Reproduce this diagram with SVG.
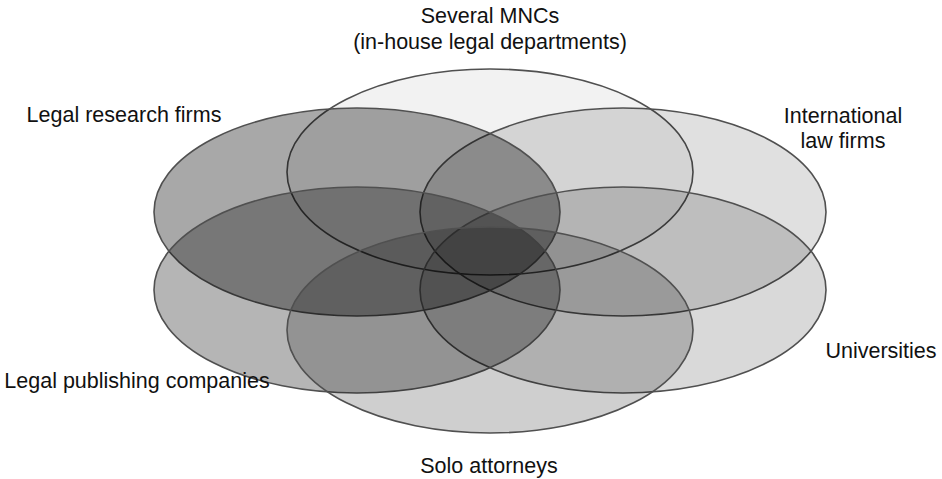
<svg xmlns="http://www.w3.org/2000/svg" width="942" height="479" viewBox="0 0 942 479">
<style>
.e{stroke:#505050;stroke-width:1.6;fill:#000}
.t{font-family:"Liberation Sans",Arial,sans-serif;font-size:21.5px;fill:#111}
</style>
<rect width="942" height="479" fill="#fff"/>
<g id="mncs"><ellipse class="e" cx="490" cy="172" rx="203" ry="103" fill-opacity="0.05"/></g>
<g id="intl"><ellipse class="e" cx="623" cy="212" rx="203" ry="104" fill-opacity="0.12"/></g>
<g id="research"><ellipse class="e" cx="357" cy="212" rx="203" ry="104" fill-opacity="0.34"/></g>
<g id="universities"><ellipse class="e" cx="623" cy="290" rx="203" ry="103" fill-opacity="0.15"/></g>
<g id="publishing"><ellipse class="e" cx="357" cy="290" rx="203" ry="103" fill-opacity="0.29"/></g>
<g id="solo"><ellipse class="e" cx="490" cy="330" rx="203" ry="103" fill-opacity="0.19"/></g>
<g id="connectors"></g>
<g id="labels">
<text class="t" x="490" y="23" text-anchor="middle">Several MNCs</text>
<text class="t" x="490" y="49" text-anchor="middle">(in-house legal departments)</text>
<text class="t" x="124" y="122" text-anchor="middle">Legal research firms</text>
<text class="t" x="843" y="123" text-anchor="middle">International</text>
<text class="t" x="843" y="148" text-anchor="middle">law firms</text>
<text class="t" x="881" y="358" text-anchor="middle">Universities</text>
<text class="t" x="137" y="388" text-anchor="middle">Legal publishing companies</text>
<text class="t" x="489" y="473" text-anchor="middle">Solo attorneys</text>
</g>
</svg>
